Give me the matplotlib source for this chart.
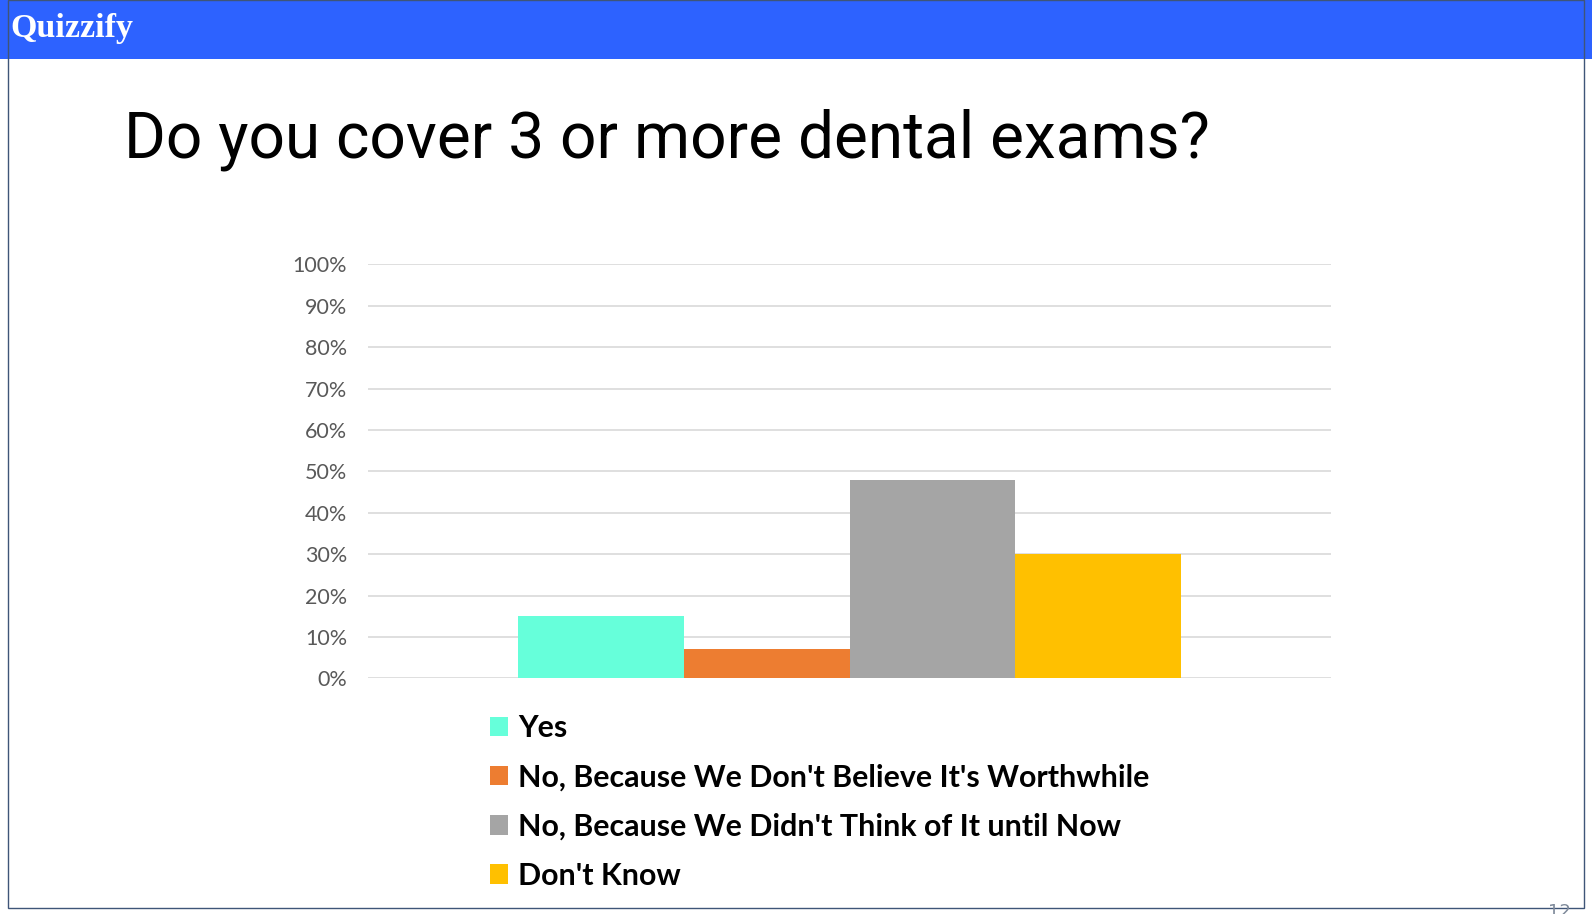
import matplotlib
matplotlib.use('Agg')
import matplotlib.pyplot as plt
from matplotlib.patches import Rectangle

# Chart data
answers = ['Yes',
           "No, Because We Don't Believe It's Worthwhile",
           "No, Because We Didn't Think of It until Now",
           "Don't Know"]
shares = [15, 7, 48, 30]
colors = ['#66FFDA', '#ED7D31', '#A5A5A5', '#FFC000']
yticks = [0, 10, 20, 30, 40, 50, 60, 70, 80, 90, 100]

W, H = 1592, 914
fig = plt.figure(figsize=(W / 100, H / 100), dpi=100)
fig.patch.set_facecolor('white')

def fx(px):
    return px / W

def fy(py):
    return 1 - py / H

# Header bar and slide frame
fig.patches.append(Rectangle((0, fy(59)), 1, 59 / H, transform=fig.transFigure,
                             facecolor='#2D62FF', edgecolor='none', zorder=0))
fig.patches.append(Rectangle((fx(8), fy(908)), fx(1584 - 8), 908 / H, transform=fig.transFigure,
                             facecolor='none', edgecolor='#3F5578', linewidth=1.0, zorder=1))
fig.text(fx(10), fy(29), 'Quizzify', color='white', fontsize=24.5, fontweight='bold',
         family='Liberation Serif', va='center', ha='left')
fig.text(fx(1559), fy(903), '12', color='#7F8A9A', fontsize=13, va='top', ha='center')

# Title
fig.text(fx(124), fy(140), 'Do you cover 3 or more dental exams?', fontsize=46,
         family='Roboto', color='black', va='center', ha='left')

# Chart area
ax = fig.add_axes([fx(368), fy(678.3), fx(1331 - 368), (678.3 - 264.3) / H])
width = 0.1722
n = len(shares)
bars = []
for i in range(n):
    offset = (i - (n - 1) / 2) * width
    b = ax.bar(offset, shares[i], width=width, color=colors[i], label=answers[i], zorder=2)
    bars.append(b)

ax.set_xlim(-0.5, 0.5)
ax.set_ylim(0, 100)
ax.set_yticks(yticks)
ax.set_yticklabels([f'{t}%' for t in yticks], family='Lato', fontsize=15.5, color='#595959')
ax.set_xticks([])
ax.tick_params(axis='y', length=0, pad=15)
ax.grid(axis='y', color='#D9D9D9', linewidth=1.2, zorder=0)
for s in ax.spines.values():
    s.set_visible(False)

leg = fig.legend(handles=bars, labels=answers, loc='upper left',
                 bbox_to_anchor=(fx(490), fy(714)), frameon=False,
                 prop={'family': 'Lato', 'weight': 'bold', 'size': 21.9},
                 handlelength=0.6, handleheight=0.6, handletextpad=0.32,
                 labelspacing=0.7, borderaxespad=0, borderpad=0)

plt.savefig('out.png', dpi=100)
